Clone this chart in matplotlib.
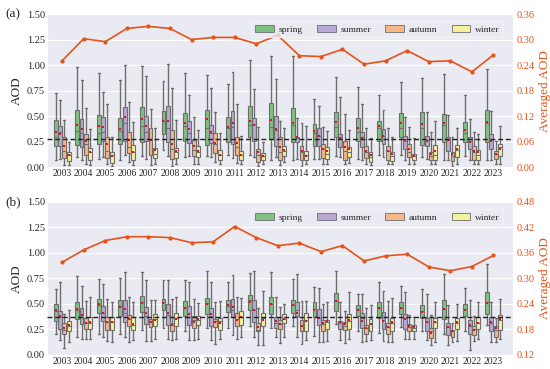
import numpy as np
import matplotlib
matplotlib.use("Agg")
import matplotlib.pyplot as plt
import matplotlib.patches as mpatches
import seaborn as sns

sns.set_style("darkgrid")
plt.rcParams['font.family'] = ['Liberation Serif', 'DejaVu Serif']

years = list(range(2003, 2024))
seasons = ['spring', 'summer', 'autumn', 'winter']
face_colors = ['#80c080', '#b8a8d4', '#f6b886', '#f4f29c']
edge_color = '#6e6e6e'
line_color = '#e5531a'

# box stats per year: [whislo, q1, med, q3, whishi, mean]
a_spring = [[0.07, 0.21, 0.30, 0.46, 0.73, 0.34], [0.10, 0.22, 0.35, 0.56, 0.98, 0.41],
            [0.08, 0.23, 0.33, 0.51, 0.92, 0.40], [0.07, 0.23, 0.35, 0.48, 0.85, 0.37],
            [0.11, 0.25, 0.40, 0.59, 0.99, 0.47], [0.17, 0.32, 0.45, 0.55, 0.84, 0.45],
            [0.10, 0.26, 0.40, 0.53, 0.92, 0.43], [0.11, 0.22, 0.38, 0.56, 0.90, 0.47],
            [0.12, 0.25, 0.38, 0.49, 0.81, 0.39], [0.12, 0.30, 0.41, 0.60, 1.05, 0.45],
            [0.07, 0.28, 0.39, 0.63, 1.09, 0.46], [0.07, 0.25, 0.41, 0.58, 1.09, 0.43],
            [0.08, 0.21, 0.33, 0.42, 0.67, 0.35], [0.11, 0.30, 0.39, 0.54, 0.88, 0.44],
            [0.08, 0.26, 0.34, 0.48, 0.79, 0.38], [0.12, 0.26, 0.38, 0.45, 0.71, 0.40],
            [0.12, 0.30, 0.38, 0.53, 0.83, 0.43], [0.10, 0.22, 0.38, 0.54, 0.87, 0.42],
            [0.07, 0.25, 0.41, 0.52, 0.91, 0.43], [0.11, 0.25, 0.33, 0.44, 0.71, 0.36],
            [0.07, 0.25, 0.43, 0.56, 0.96, 0.44]]
a_summer = [[0.08, 0.21, 0.34, 0.40, 0.66, 0.32], [0.07, 0.20, 0.33, 0.47, 0.85, 0.37],
            [0.10, 0.26, 0.34, 0.49, 0.74, 0.39], [0.12, 0.26, 0.43, 0.59, 1.00, 0.49],
            [0.08, 0.26, 0.34, 0.50, 0.89, 0.40], [0.11, 0.25, 0.38, 0.60, 1.01, 0.45],
            [0.11, 0.24, 0.33, 0.45, 0.71, 0.37], [0.10, 0.24, 0.33, 0.41, 0.78, 0.34],
            [0.09, 0.23, 0.39, 0.55, 0.93, 0.43], [0.10, 0.26, 0.42, 0.48, 0.77, 0.41],
            [0.10, 0.21, 0.36, 0.50, 0.86, 0.37], [0.08, 0.25, 0.29, 0.30, 0.48, 0.30],
            [0.08, 0.21, 0.31, 0.38, 0.60, 0.31], [0.10, 0.20, 0.30, 0.32, 0.69, 0.29],
            [0.07, 0.20, 0.30, 0.34, 0.62, 0.29], [0.10, 0.23, 0.31, 0.37, 0.56, 0.31],
            [0.07, 0.18, 0.26, 0.31, 0.49, 0.27], [0.08, 0.21, 0.27, 0.31, 0.54, 0.26],
            [0.07, 0.16, 0.27, 0.30, 0.51, 0.27], [0.07, 0.18, 0.26, 0.30, 0.47, 0.25],
            [0.07, 0.18, 0.28, 0.32, 0.55, 0.26]]
a_autumn = [[0.02, 0.09, 0.16, 0.30, 0.46, 0.21], [0.03, 0.12, 0.23, 0.32, 0.58, 0.26],
            [0.03, 0.09, 0.16, 0.30, 0.62, 0.23], [0.05, 0.14, 0.20, 0.34, 0.64, 0.27],
            [0.02, 0.12, 0.28, 0.38, 0.57, 0.27], [0.01, 0.08, 0.18, 0.36, 0.78, 0.23],
            [0.03, 0.11, 0.17, 0.27, 0.49, 0.21], [0.05, 0.14, 0.23, 0.33, 0.54, 0.24],
            [0.04, 0.12, 0.20, 0.30, 0.62, 0.24], [0.01, 0.05, 0.12, 0.18, 0.39, 0.15],
            [0.02, 0.07, 0.15, 0.30, 0.45, 0.20], [0.01, 0.07, 0.15, 0.21, 0.43, 0.16],
            [0.03, 0.09, 0.18, 0.23, 0.39, 0.18], [0.03, 0.07, 0.16, 0.26, 0.52, 0.20],
            [0.03, 0.09, 0.15, 0.21, 0.38, 0.16], [0.03, 0.07, 0.16, 0.21, 0.38, 0.16],
            [0.03, 0.10, 0.15, 0.23, 0.39, 0.18], [0.03, 0.07, 0.11, 0.15, 0.34, 0.13],
            [0.01, 0.06, 0.11, 0.15, 0.30, 0.13], [0.03, 0.07, 0.15, 0.21, 0.34, 0.16],
            [0.03, 0.08, 0.13, 0.16, 0.26, 0.13]]
a_winter = [[0.02, 0.06, 0.12, 0.15, 0.25, 0.12], [0.02, 0.07, 0.15, 0.19, 0.37, 0.15],
            [0.01, 0.04, 0.12, 0.15, 0.30, 0.11], [0.02, 0.07, 0.15, 0.22, 0.44, 0.15],
            [0.03, 0.09, 0.13, 0.19, 0.38, 0.17], [0.03, 0.09, 0.15, 0.19, 0.46, 0.16],
            [0.03, 0.10, 0.15, 0.21, 0.36, 0.16], [0.03, 0.07, 0.12, 0.17, 0.33, 0.12],
            [0.03, 0.07, 0.12, 0.16, 0.31, 0.12], [0.03, 0.07, 0.11, 0.14, 0.25, 0.11],
            [0.05, 0.11, 0.16, 0.21, 0.38, 0.17], [0.03, 0.07, 0.12, 0.16, 0.40, 0.11],
            [0.03, 0.08, 0.13, 0.20, 0.35, 0.16], [0.04, 0.10, 0.15, 0.20, 0.36, 0.18],
            [0.02, 0.05, 0.10, 0.15, 0.29, 0.12], [0.03, 0.06, 0.11, 0.15, 0.30, 0.13],
            [0.03, 0.07, 0.11, 0.13, 0.29, 0.11], [0.03, 0.07, 0.12, 0.22, 0.45, 0.16],
            [0.03, 0.10, 0.17, 0.22, 0.38, 0.18], [0.03, 0.07, 0.12, 0.17, 0.32, 0.15],
            [0.03, 0.11, 0.20, 0.23, 0.40, 0.18]]
a_avg = [0.250, 0.302, 0.295, 0.326, 0.331, 0.326, 0.300, 0.305, 0.305, 0.290, 0.310,
         0.262, 0.260, 0.277, 0.242, 0.250, 0.274, 0.248, 0.250, 0.224, 0.264]
a_ref = 0.28

b_spring = [[0.21, 0.33, 0.43, 0.50, 0.65, 0.44], [0.18, 0.35, 0.44, 0.52, 0.77, 0.45],
            [0.21, 0.41, 0.49, 0.55, 0.74, 0.50], [0.21, 0.38, 0.48, 0.54, 0.75, 0.47],
            [0.24, 0.42, 0.52, 0.58, 0.81, 0.51], [0.26, 0.44, 0.52, 0.55, 0.73, 0.51],
            [0.23, 0.38, 0.46, 0.53, 0.73, 0.46], [0.26, 0.40, 0.51, 0.56, 0.82, 0.50],
            [0.26, 0.42, 0.48, 0.54, 0.71, 0.49], [0.28, 0.44, 0.54, 0.59, 0.80, 0.52],
            [0.26, 0.40, 0.50, 0.57, 0.81, 0.50], [0.28, 0.41, 0.49, 0.54, 0.74, 0.49],
            [0.19, 0.37, 0.45, 0.52, 0.67, 0.44], [0.30, 0.43, 0.53, 0.61, 0.82, 0.53],
            [0.23, 0.38, 0.45, 0.49, 0.60, 0.44], [0.22, 0.36, 0.46, 0.52, 0.71, 0.46],
            [0.27, 0.40, 0.46, 0.52, 0.68, 0.46], [0.23, 0.36, 0.43, 0.49, 0.65, 0.42],
            [0.21, 0.35, 0.45, 0.54, 0.79, 0.45], [0.23, 0.38, 0.45, 0.50, 0.66, 0.44],
            [0.29, 0.40, 0.52, 0.62, 0.89, 0.51]]
b_summer = [[0.15, 0.25, 0.37, 0.43, 0.71, 0.38], [0.16, 0.30, 0.37, 0.46, 0.68, 0.39],
            [0.18, 0.33, 0.41, 0.48, 0.70, 0.41], [0.18, 0.32, 0.41, 0.54, 0.81, 0.45],
            [0.14, 0.30, 0.38, 0.47, 0.73, 0.41], [0.16, 0.29, 0.39, 0.50, 0.73, 0.41],
            [0.15, 0.29, 0.37, 0.48, 0.71, 0.40], [0.15, 0.28, 0.38, 0.46, 0.71, 0.40],
            [0.20, 0.37, 0.44, 0.55, 0.78, 0.47], [0.18, 0.32, 0.44, 0.54, 0.82, 0.44],
            [0.18, 0.26, 0.31, 0.37, 0.57, 0.33], [0.18, 0.38, 0.44, 0.52, 0.79, 0.41],
            [0.13, 0.29, 0.36, 0.45, 0.66, 0.36], [0.15, 0.25, 0.31, 0.33, 0.52, 0.32],
            [0.13, 0.26, 0.36, 0.41, 0.60, 0.33], [0.14, 0.25, 0.34, 0.42, 0.63, 0.33],
            [0.16, 0.25, 0.36, 0.40, 0.62, 0.35], [0.15, 0.23, 0.32, 0.36, 0.60, 0.32],
            [0.10, 0.20, 0.27, 0.31, 0.49, 0.27], [0.05, 0.21, 0.28, 0.34, 0.54, 0.29],
            [0.13, 0.23, 0.31, 0.37, 0.52, 0.32]]
b_autumn = [[0.07, 0.21, 0.24, 0.31, 0.40, 0.26], [0.16, 0.25, 0.31, 0.36, 0.53, 0.31],
            [0.14, 0.24, 0.32, 0.37, 0.55, 0.32], [0.13, 0.28, 0.35, 0.39, 0.57, 0.35],
            [0.14, 0.27, 0.33, 0.35, 0.54, 0.32], [0.15, 0.23, 0.29, 0.31, 0.55, 0.29],
            [0.15, 0.26, 0.34, 0.38, 0.55, 0.32], [0.11, 0.27, 0.33, 0.35, 0.52, 0.32],
            [0.16, 0.28, 0.35, 0.41, 0.57, 0.34], [0.10, 0.23, 0.24, 0.31, 0.46, 0.27],
            [0.12, 0.25, 0.30, 0.34, 0.47, 0.30], [0.11, 0.23, 0.29, 0.34, 0.53, 0.28],
            [0.13, 0.23, 0.30, 0.34, 0.50, 0.31], [0.12, 0.24, 0.28, 0.32, 0.43, 0.30],
            [0.14, 0.21, 0.26, 0.29, 0.46, 0.26], [0.13, 0.21, 0.27, 0.31, 0.53, 0.27],
            [0.16, 0.23, 0.27, 0.30, 0.39, 0.28], [0.10, 0.17, 0.23, 0.26, 0.39, 0.22],
            [0.13, 0.18, 0.23, 0.24, 0.31, 0.23], [0.14, 0.20, 0.25, 0.28, 0.38, 0.24],
            [0.13, 0.18, 0.24, 0.28, 0.36, 0.26]]
b_winter = [[0.13, 0.23, 0.28, 0.33, 0.44, 0.29], [0.16, 0.25, 0.31, 0.37, 0.57, 0.32],
            [0.13, 0.24, 0.32, 0.37, 0.52, 0.32], [0.15, 0.24, 0.29, 0.37, 0.52, 0.30],
            [0.16, 0.28, 0.35, 0.40, 0.54, 0.34], [0.16, 0.28, 0.36, 0.41, 0.57, 0.35],
            [0.16, 0.29, 0.34, 0.38, 0.51, 0.35], [0.16, 0.24, 0.33, 0.36, 0.53, 0.31],
            [0.18, 0.29, 0.37, 0.43, 0.56, 0.37], [0.10, 0.28, 0.36, 0.41, 0.63, 0.34],
            [0.18, 0.31, 0.35, 0.40, 0.50, 0.35], [0.15, 0.23, 0.34, 0.41, 0.53, 0.33],
            [0.14, 0.25, 0.32, 0.34, 0.52, 0.33], [0.16, 0.25, 0.33, 0.40, 0.62, 0.34],
            [0.15, 0.23, 0.31, 0.35, 0.49, 0.30], [0.13, 0.23, 0.31, 0.36, 0.56, 0.32],
            [0.16, 0.23, 0.26, 0.29, 0.37, 0.27], [0.13, 0.26, 0.32, 0.36, 0.52, 0.32],
            [0.14, 0.25, 0.31, 0.36, 0.50, 0.32], [0.16, 0.25, 0.31, 0.37, 0.52, 0.31],
            [0.16, 0.24, 0.34, 0.39, 0.55, 0.35]]
b_avg = [0.338, 0.367, 0.389, 0.398, 0.398, 0.396, 0.384, 0.386, 0.422, 0.396, 0.377,
         0.383, 0.363, 0.377, 0.341, 0.353, 0.357, 0.327, 0.318, 0.328, 0.354]
b_ref = 0.37


def to_stats(rows):
    out = []
    for lo, q1, med, q3, hi, mean in rows:
        out.append(dict(whislo=lo, q1=q1, med=med, q3=q3, whishi=hi, mean=mean, fliers=[]))
    return out


def draw_panel(ax, season_data, avg, ref, rlim, rticks, tag):
    x = np.arange(len(years))
    offsets = [-0.3, -0.1, 0.1, 0.3]
    for data, off, fc in zip(season_data, offsets, face_colors):
        ax.bxp(to_stats(data), positions=x + off, widths=0.18, patch_artist=True,
               showmeans=True, showfliers=False, manage_ticks=False,
               boxprops=dict(facecolor=fc, edgecolor=edge_color, linewidth=0.8),
               whiskerprops=dict(color=edge_color, linewidth=1.0),
               capprops=dict(color=edge_color, linewidth=1.0),
               medianprops=dict(color=edge_color, linewidth=0.8),
               meanprops=dict(marker='s', markersize=2.0, markeredgewidth=0,
                              markerfacecolor='#e0102a'))
    ax.axhline(ref, color='#222222', linestyle=(0, (3.5, 2)), linewidth=1.0, zorder=4)
    ax.set_xlim(-0.7, 20.9)
    ax.set_ylim(0, 1.5)
    ax.set_yticks(np.arange(0, 1.51, 0.25))
    ax.set_yticklabels(['%.2f' % v for v in np.arange(0, 1.51, 0.25)], fontsize=7.5)
    ax.set_xticks(x)
    ax.set_xticklabels([str(y) for y in years], fontsize=6.9)
    ax.tick_params(axis='both', pad=1.5, length=0)
    ax.xaxis.grid(False)
    ax.set_ylabel('AOD', fontsize=9.5, labelpad=3)
    ax.text(-0.09, 1.0, tag, transform=ax.transAxes, fontsize=9.5, va='center')

    ax2 = ax.twinx()
    ax2.plot(x, avg, color=line_color, linewidth=1.2, marker='o', markersize=2)
    ax2.set_ylim(*rlim)
    ax2.set_yticks(rticks)
    ax2.set_yticklabels(['%.2f' % v for v in rticks], fontsize=7.5, color=line_color)
    ax2.tick_params(axis='y', length=0, pad=2.5)
    ax2.grid(False)
    ax2.set_ylabel('Averaged AOD', fontsize=9.5, color=line_color, labelpad=3)
    handles = [mpatches.Patch(facecolor=fc, edgecolor=edge_color, linewidth=0.6, label=s)
               for s, fc in zip(seasons, face_colors)]
    ax2.legend(handles=handles, loc='upper right', ncol=4, fontsize=6.8, frameon=True,
               facecolor='#eaeaf2', edgecolor='#f4f4f8', handlelength=2.0, handleheight=0.8,
               handletextpad=0.5, columnspacing=1.5, borderpad=0.4,
               bbox_to_anchor=(0.99, 0.985))
    for sp in ax2.spines.values():
        sp.set_visible(False)


fig = plt.figure(figsize=(5.5, 3.69), dpi=100)
ax_a = fig.add_axes([0.0855, 0.547, 0.847, 0.415])
ax_b = fig.add_axes([0.0855, 0.038, 0.847, 0.415])

draw_panel(ax_a, [a_spring, a_summer, a_autumn, a_winter], a_avg, a_ref,
           (0, 0.36), np.arange(0, 0.361, 0.06), '(a)')
draw_panel(ax_b, [b_spring, b_summer, b_autumn, b_winter], b_avg, b_ref,
           (0.12, 0.48), np.arange(0.12, 0.481, 0.06), '(b)')

fig.savefig('out.png', dpi=100)
